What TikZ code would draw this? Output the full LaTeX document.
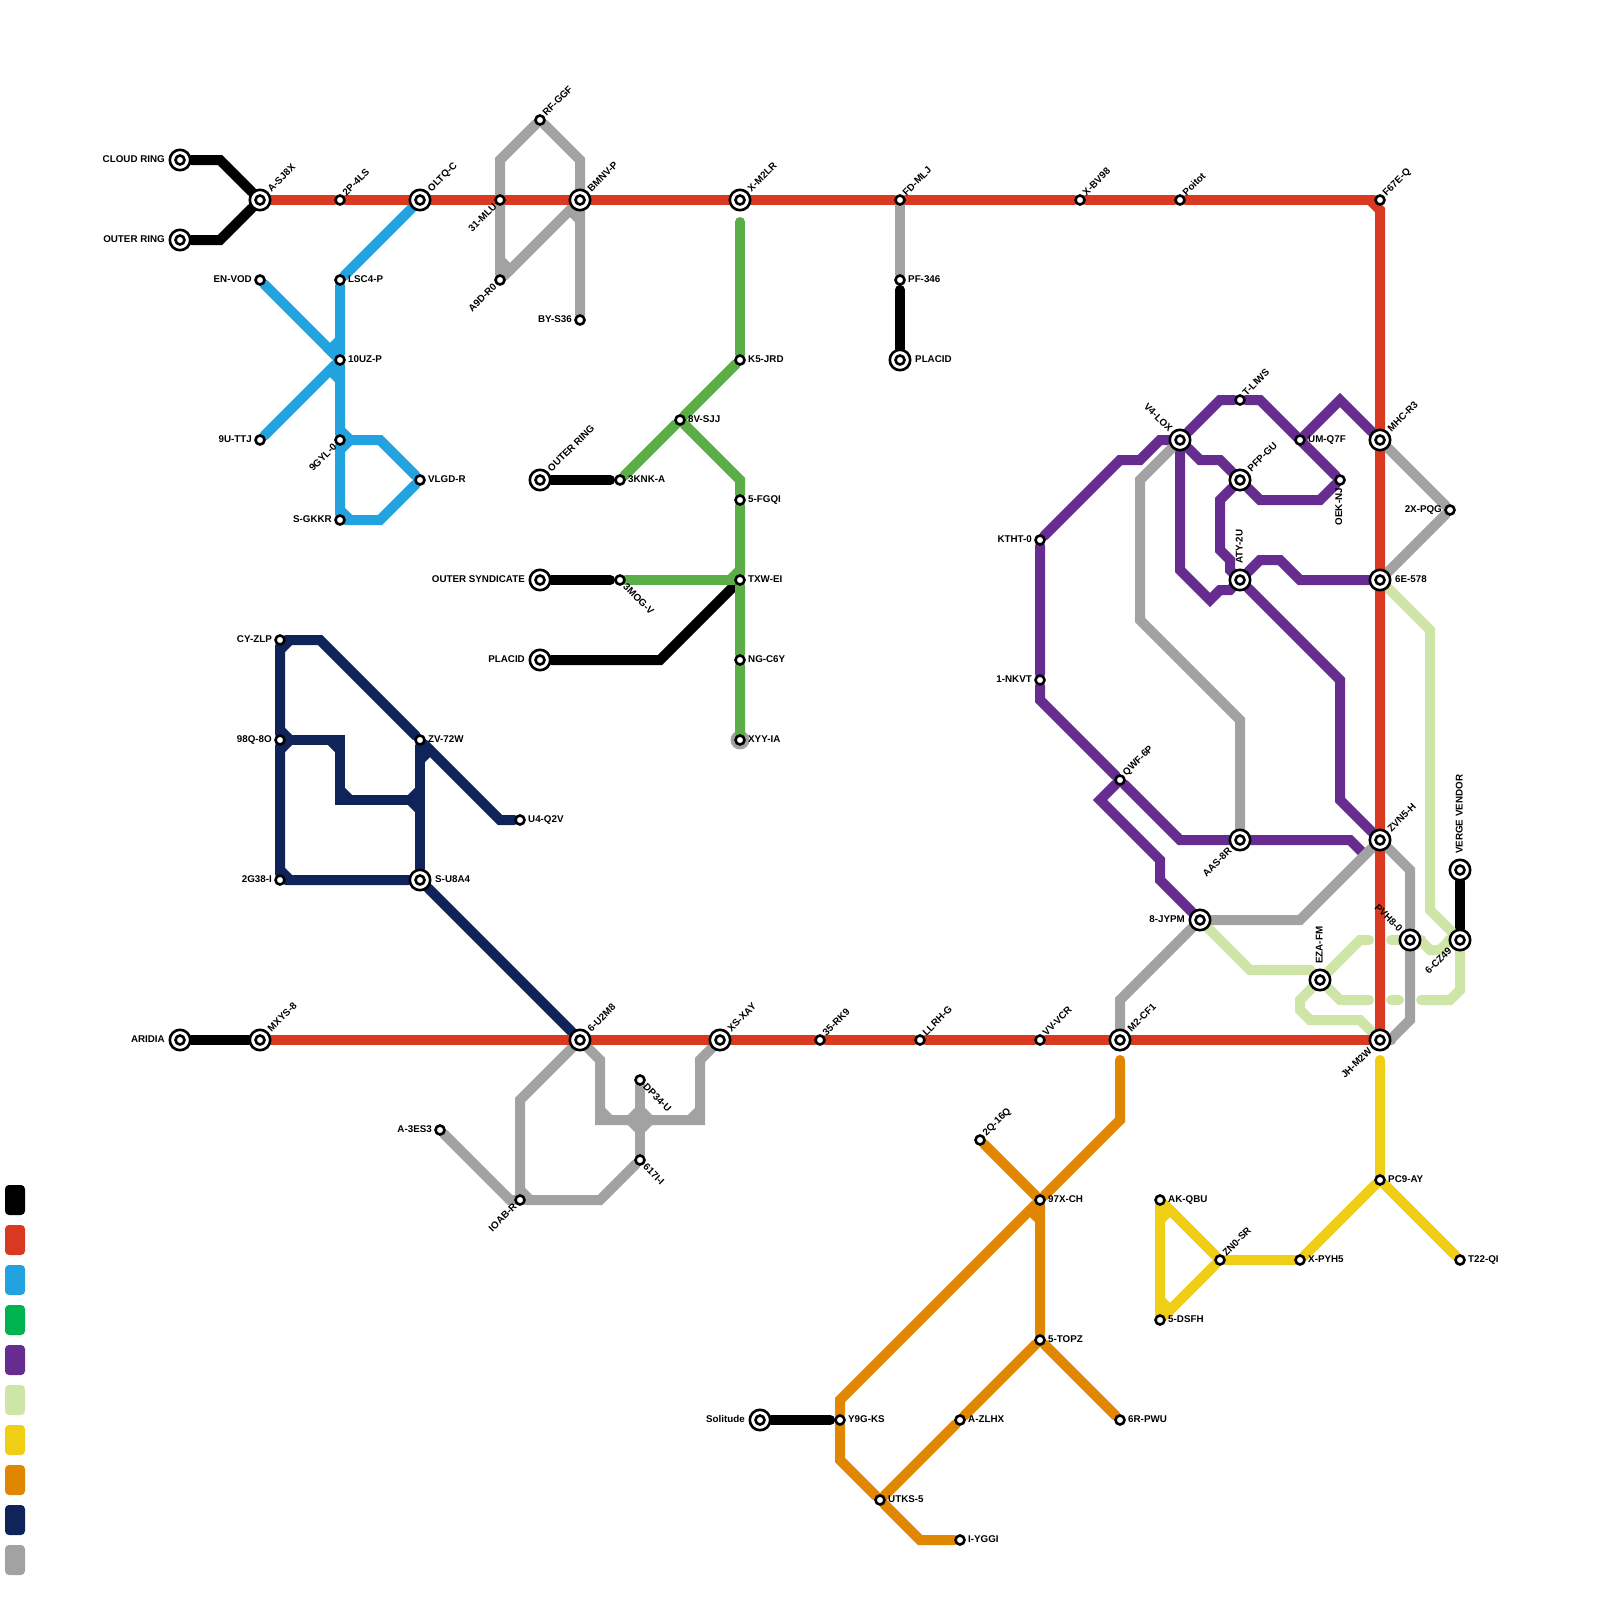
\documentclass[tikz,border=0pt]{standalone}
\usepackage{fontspec}
\setmainfont{Liberation Sans}
\definecolor{lineblack}{RGB}{0, 0, 0}
\definecolor{linered}{RGB}{216, 57, 32}
\definecolor{lineblue}{RGB}{34, 162, 223}
\definecolor{legendgreen}{RGB}{0, 178, 80}
\definecolor{linegreen}{RGB}{91, 173, 71}
\definecolor{linepurple}{RGB}{102, 44, 144}
\definecolor{linelime}{RGB}{207, 228, 167}
\definecolor{lineyellow}{RGB}{240, 206, 21}
\definecolor{lineorange}{RGB}{224, 134, 0}
\definecolor{linenavy}{RGB}{17, 36, 90}
\definecolor{linegray}{RGB}{162, 162, 162}
\usetikzlibrary{positioning}
\pgfdeclarelayer{lines}
\pgfsetlayers{lines,main}
\tikzset{
  route/.style={line width=10pt, line cap=round, line join=miter},
  station/.style={circle, draw=black, fill=white, line width=2.6pt, minimum size=9pt, inner sep=0pt},
  hub/.style={station, minimum size=20.4pt, path picture={\draw[line width=2.6pt] (path picture bounding box.center) circle (4.5pt);}},
  legendbox/.style={rounded corners=4pt, minimum width=20pt, minimum height=30pt, inner sep=0pt},
  tag/.style={font=\fontsize{9.8}{12}\selectfont\bfseries, inner sep=0pt, text height=7pt, text depth=0pt},
  tage/.style={tag, anchor=west, shift={(8,-1)}},
  tagw/.style={tag, anchor=east, shift={(-8,-1)}},
  tagne/.style={tag, anchor=west, shift={(4,-6)}, rotate=45},
  tagsw/.style={tag, anchor=east, shift={(-5,5)}, rotate=45},
  tagse/.style={tag, anchor=west, shift={(5,5)}, rotate=-45},
  hube/.style={tag, anchor=west, shift={(15,-1)}},
  hubw/.style={tag, anchor=east, shift={(-15,-1)}},
  hubne/.style={tag, anchor=west, shift={(9,-10)}, rotate=45},
  hubsw/.style={tag, anchor=east, shift={(-10,9)}, rotate=45},
  hubnw/.style={tag, anchor=east, shift={(-9,-10)}, rotate=-45},
  hubup/.style={tag, anchor=west, shift={(-1,-16)}, rotate=90},
}
\begin{document}
\begin{tikzpicture}[x=1pt, y=-1pt]
  \useasboundingbox (0,0) rectangle (1600,1600);

  % Legend
  \node[legendbox, fill=lineblack] (key1) at (15,1200) {};
  \node[legendbox, fill=linered] (key2) at (15,1240) {};
  \node[legendbox, fill=lineblue] (key3) at (15,1280) {};
  \node[legendbox, fill=legendgreen] (key4) at (15,1320) {};
  \node[legendbox, fill=linepurple] (key5) at (15,1360) {};
  \node[legendbox, fill=linelime] (key6) at (15,1400) {};
  \node[legendbox, fill=lineyellow] (key7) at (15,1440) {};
  \node[legendbox, fill=lineorange] (key8) at (15,1480) {};
  \node[legendbox, fill=linenavy] (key9) at (15,1520) {};
  \node[legendbox, fill=linegray] (key10) at (15,1560) {};

  % Stations, top left
  \node[hub] (cloudring) at (180,160) {};
  \node[hubw] (cloudring-t) at (cloudring) {CLOUD RING};
  \node[hub] (outerring) at (180,240) {};
  \node[hubw] (outerring-t) at (outerring) {OUTER RING};
  \node[hub] (asj) at (260,200) {};
  \node[hubne] (asj-t) at (asj) {A-SJ8X};
  \node[station] (pfourls) at (340,200) {};
  \node[tagne] (pfourls-t) at (pfourls) {2P-4LS};
  \node[hub] (oltq) at (420,200) {};
  \node[hubne] (oltq-t) at (oltq) {OLTQ-C};
  \node[station] (mlu) at (500,200) {};
  \node[tagsw] (mlu-t) at (mlu) {31-MLU};
  \node[hub] (bmnv) at (580,200) {};
  \node[hubne] (bmnv-t) at (bmnv) {BMNV-P};
  \node[station] (rfggf) at (540,120) {};
  \node[tagne] (rfggf-t) at (rfggf) {RF-GGF};
  \node[station] (anine) at (500,280) {};
  \node[tagsw] (anine-t) at (anine) {A9D-R0};
  \node[station] (bys) at (580,320) {};
  \node[tagw] (bys-t) at (bys) {BY-S36};
  \node[station] (envod) at (260,280) {};
  \node[tagw] (envod-t) at (envod) {EN-VOD};
  \node[station] (lsc) at (340,280) {};
  \node[tage] (lsc-t) at (lsc) {LSC4-P};
  \node[station] (tenuz) at (340,360) {};
  \node[tage] (tenuz-t) at (tenuz) {10UZ-P};
  \node[station] (uttj) at (260,440) {};
  \node[tagw] (uttj-t) at (uttj) {9U-TTJ};
  \node[station] (gyl) at (340,440) {};
  \node[tagsw] (gyl-t) at (gyl) {9GYL-0};
  \node[station] (vlgd) at (420,480) {};
  \node[tage] (vlgd-t) at (vlgd) {VLGD-R};
  \node[station] (gkkr) at (340,520) {};
  \node[tagw] (gkkr-t) at (gkkr) {S-GKKR};

  % Stations, middle
  \node[hub] (outertwo) at (540,480) {};
  \node[hubne] (outertwo-t) at (outertwo) {OUTER RING};
  \node[station] (knk) at (620,480) {};
  \node[tage] (knk-t) at (knk) {3KNK-A};
  \node[hub] (syndicate) at (540,580) {};
  \node[hubw] (syndicate-t) at (syndicate) {OUTER SYNDICATE};
  \node[station] (mog) at (620,580) {};
  \node[tagse] (mog-t) at (mog) {3MOG-V};
  \node[hub] (placid) at (540,660) {};
  \node[hubw] (placid-t) at (placid) {PLACID};
  \node[hub] (xmlr) at (740,200) {};
  \node[hubne] (xmlr-t) at (xmlr) {X-M2LR};
  \node[station] (kjrd) at (740,360) {};
  \node[tage] (kjrd-t) at (kjrd) {K5-JRD};
  \node[station] (sjj) at (680,420) {};
  \node[tage] (sjj-t) at (sjj) {8V-SJJ};
  \node[station] (fgqi) at (740,500) {};
  \node[tage] (fgqi-t) at (fgqi) {5-FGQI};
  \node[station] (txw) at (740,580) {};
  \node[tage] (txw-t) at (txw) {TXW-EI};
  \node[station] (ngc) at (740,660) {};
  \node[tage] (ngc-t) at (ngc) {NG-C6Y};
  \node[station] (xyy) at (740,740) {};
  \node[tage] (xyy-t) at (xyy) {XYY-IA};
  \node[station] (fdmlj) at (900,200) {};
  \node[tagne] (fdmlj-t) at (fdmlj) {FD-MLJ};
  \node[station] (pfthree) at (900,280) {};
  \node[tage] (pfthree-t) at (pfthree) {PF-346};
  \node[hub] (placidtwo) at (900,360) {};
  \node[hube] (placidtwo-t) at (placidtwo) {PLACID};
  \node[station] (xbv) at (1080,200) {};
  \node[tagne] (xbv-t) at (xbv) {X-BV98};
  \node[station] (poitot) at (1180,200) {};
  \node[tagne] (poitot-t) at (poitot) {Poitot};
  \node[station] (fsix) at (1380,200) {};
  \node[tagne] (fsix-t) at (fsix) {F67E-Q};

  % Stations, navy block
  \node[station] (cyz) at (280,640) {};
  \node[tagw] (cyz-t) at (cyz) {CY-ZLP};
  \node[station] (nineq) at (280,740) {};
  \node[tagw] (nineq-t) at (nineq) {98Q-8O};
  \node[station] (gthree) at (280,880) {};
  \node[tagw] (gthree-t) at (gthree) {2G38-I};
  \node[station] (zvw) at (420,740) {};
  \node[tage] (zvw-t) at (zvw) {ZV-72W};
  \node[hub] (ueight) at (420,880) {};
  \node[hube] (ueight-t) at (ueight) {S-U8A4};
  \node[station] (uq) at (520,820) {};
  \node[tage] (uq-t) at (uq) {U4-Q2V};

  % Stations, right
  \node[hub] (mhc) at (1380,440) {};
  \node[hubne] (mhc-t) at (mhc) {MHC-R3};
  \node[station] (umq) at (1300,440) {};
  \node[tage] (umq-t) at (umq) {UM-Q7F};
  \node[station] (tliws) at (1240,400) {};
  \node[tagne] (tliws-t) at (tliws) {T-LIWS};
  \node[hub] (vlox) at (1180,440) {};
  \node[hubnw] (vlox-t) at (vlox) {V4-LOX};
  \node[hub] (pfp) at (1240,480) {};
  \node[hubne] (pfp-t) at (pfp) {PFP-GU};
  \node[station] (oek) at (1340,480) {};
  \node[tag, anchor=east, shift={(-1.5,8)}, rotate=90] (oek-t) at (oek) {OEK-NJ};
  \node[station] (pqg) at (1450,510) {};
  \node[tagw] (pqg-t) at (pqg) {2X-PQG};
  \node[hub] (esix) at (1380,580) {};
  \node[hube] (esix-t) at (esix) {6E-578};
  \node[hub] (aty) at (1240,580) {};
  \node[hubup] (aty-t) at (aty) {ATY-2U};
  \node[station] (ktht) at (1040,540) {};
  \node[tagw] (ktht-t) at (ktht) {KTHT-0};
  \node[station] (nkvt) at (1040,680) {};
  \node[tagw] (nkvt-t) at (nkvt) {1-NKVT};
  \node[station] (qwf) at (1120,780) {};
  \node[tagne] (qwf-t) at (qwf) {QWF-6P};
  \node[hub] (aas) at (1240,840) {};
  \node[hubsw] (aas-t) at (aas) {AAS-8R};
  \node[hub] (zvn) at (1380,840) {};
  \node[hubne] (zvn-t) at (zvn) {ZVN5-H};
  \node[hub] (jypm) at (1200,920) {};
  \node[hubw] (jypm-t) at (jypm) {8-JYPM};
  \node[hub] (eza) at (1320,980) {};
  \node[hubup] (eza-t) at (eza) {EZA-FM};
  \node[hub] (pvh) at (1410,940) {};
  \node[hubnw] (pvh-t) at (pvh) {PVH8-0};
  \node[hub] (czf) at (1460,940) {};
  \node[hubsw] (czf-t) at (czf) {6-CZ49};
  \node[hub] (verge) at (1460,870) {};
  \node[hubup] (verge-t) at (verge) {VERGE VENDOR};

  % Stations, lower red line
  \node[hub] (aridia) at (180,1040) {};
  \node[hubw] (aridia-t) at (aridia) {ARIDIA};
  \node[hub] (mxys) at (260,1040) {};
  \node[hubne] (mxys-t) at (mxys) {MXYS-8};
  \node[hub] (usix) at (580,1040) {};
  \node[hubne] (usix-t) at (usix) {6-U2M8};
  \node[hub] (xsx) at (720,1040) {};
  \node[hubne] (xsx-t) at (xsx) {XS-XAY};
  \node[station] (rknine) at (820,1040) {};
  \node[tagne] (rknine-t) at (rknine) {35-RK9};
  \node[station] (llrh) at (920,1040) {};
  \node[tagne] (llrh-t) at (llrh) {LLRH-G};
  \node[station] (vvv) at (1040,1040) {};
  \node[tagne] (vvv-t) at (vvv) {VV-VCR};
  \node[hub] (mcf) at (1120,1040) {};
  \node[hubne] (mcf-t) at (mcf) {M2-CF1};
  \node[hub] (jhm) at (1380,1040) {};
  \node[hubsw] (jhm-t) at (jhm) {JH-M2W};

  % Stations, bottom
  \node[station] (dpu) at (640,1080) {};
  \node[tagse] (dpu-t) at (dpu) {DP34-U};
  \node[station] (sixone) at (640,1160) {};
  \node[tagse] (sixone-t) at (sixone) {617I-I};
  \node[station] (ioab) at (520,1200) {};
  \node[tagsw] (ioab-t) at (ioab) {IOAB-R};
  \node[station] (aes) at (440,1130) {};
  \node[tagw] (aes-t) at (aes) {A-3ES3};
  \node[station] (qsix) at (980,1140) {};
  \node[tagne] (qsix-t) at (qsix) {2Q-16Q};
  \node[station] (sevenx) at (1040,1200) {};
  \node[tage] (sevenx-t) at (sevenx) {97X-CH};
  \node[station] (topz) at (1040,1340) {};
  \node[tage] (topz-t) at (topz) {5-TOPZ};
  \node[station] (pwu) at (1120,1420) {};
  \node[tage] (pwu-t) at (pwu) {6R-PWU};
  \node[station] (zlhx) at (960,1420) {};
  \node[tage] (zlhx-t) at (zlhx) {A-ZLHX};
  \node[station] (ynine) at (840,1420) {};
  \node[tage] (ynine-t) at (ynine) {Y9G-KS};
  \node[hub] (solitude) at (760,1420) {};
  \node[hubw] (solitude-t) at (solitude) {Solitude};
  \node[station] (utks) at (880,1500) {};
  \node[tage] (utks-t) at (utks) {UTKS-5};
  \node[station] (yggi) at (960,1540) {};
  \node[tage] (yggi-t) at (yggi) {I-YGGI};
  \node[station] (akq) at (1160,1200) {};
  \node[tage] (akq-t) at (akq) {AK-QBU};
  \node[station] (zns) at (1220,1260) {};
  \node[tagne] (zns-t) at (zns) {ZN0-SR};
  \node[station] (dsfh) at (1160,1320) {};
  \node[tage] (dsfh-t) at (dsfh) {5-DSFH};
  \node[station] (pyh) at (1300,1260) {};
  \node[tage] (pyh-t) at (pyh) {X-PYH5};
  \node[station] (pcnine) at (1380,1180) {};
  \node[tage] (pcnine-t) at (pcnine) {PC9-AY};
  \node[station] (tqi) at (1460,1260) {};
  \node[tage] (tqi-t) at (tqi) {T22-QI};

  \begin{pgfonlayer}{lines}
    % Black
    \draw[route, lineblack] (cloudring) -- (220,160) -- (asj);
    \draw[route, lineblack] (outerring) -- (220,240) -- (asj);
    \draw[route, lineblack, shorten >=4pt] (outertwo) -- (knk);
    \draw[route, lineblack, shorten >=4pt] (syndicate) -- (mog);
    \draw[route, lineblack, shorten >=4pt] (placid) -- (660,660) -- (txw);
    \draw[route, lineblack, shorten >=4pt] (placidtwo) -- (pfthree);
    \draw[route, lineblack] (aridia) -- (mxys);
    \draw[route, lineblack, shorten >=4pt] (solitude) -- (ynine);
    \draw[route, lineblack] (verge) -- (czf);

    % Blue
    \draw[route, lineblue] (oltq) -- (lsc) -- (tenuz) -- (gyl) -- (gkkr);
    \draw[route, lineblue] (envod) -- (tenuz);
    \draw[route, lineblue] (uttj) -- (tenuz);
    \draw[route, lineblue] (340,340) -- (330,350) -- (tenuz);
    \draw[route, lineblue] (330,370) -- (340,380);
    \draw[route, lineblue] (gyl) -- (380,440) -- (vlgd);
    \draw[route, lineblue] (gkkr) -- (380,520) -- (vlgd);
    \draw[route, lineblue] (340,430) -- (350,440) -- (340,450);
    \draw[route, lineblue] (340,510) -- (350,520);

    % Green
    \fill[linegray] (xyy) circle (9.5);
    \draw[route, linegreen, shorten <=10.5pt] (xmlr) -- (kjrd);
    \draw[route, linegreen] (kjrd) -- (sjj) -- (knk);
    \draw[route, linegreen] (sjj) -- (740,480) -- (fgqi) -- (txw) -- (ngc) -- (xyy);
    \draw[route, linegreen] (mog) -- (txw);
    \draw[route, linegreen] (740,570) -- (730,580);

    % Purple
    \draw[route, linepurple] (mhc) -- (1340,400) -- (umq);
    \draw[route, linepurple] (vlox) -- (1220,400) -- (tliws) -- (1260,400) -- (oek);
    \draw[route, linepurple] (ktht) -- (1120,460) -- (1140,460) -- (1160,440) -- (vlox);
    \draw[route, linepurple] (vlox) -- (1200,460) -- (1220,460) -- (pfp);
    \draw[route, linepurple] (vlox) -- (1180,570) -- (1210,600) -- (1220,590) -- (1230,590) -- (aty);
    \draw[route, linepurple] (pfp) -- (1220,500) -- (1220,550) -- (1230,560) -- (1230,570) -- (aty);
    \draw[route, linepurple] (pfp) -- (1260,500) -- (1320,500) -- (oek);
    \draw[route, linepurple] (aty) -- (1260,560) -- (1280,560) -- (1300,580) -- (esix);
    \draw[route, linepurple] (aty) -- (1340,680) -- (1340,800) -- (zvn);
    \draw[route, linepurple] (ktht) -- (nkvt) -- (1040,700) -- (qwf) -- (1180,840) -- (aas);
    \draw[route, linepurple] (aas) -- (1350,840) -- (1362,852);
    \draw[route, linepurple] (qwf) -- (1100,800) -- (1160,860) -- (1160,880) -- (jypm);

    % Light green
    \draw[route, linelime] (esix) -- (1430,630) -- (1430,910) -- (czf);
    \draw[route, linelime] (jypm) -- (1250,970) -- (1310,970) -- (eza);
    \draw[route, linelime] (eza) -- (1360,940) -- (1369,940);
    \draw[route, linelime] (1391,940) -- (pvh);
    \draw[route, linelime] (pvh) -- (1420,940) -- (1430,950) -- (1440,950) -- (1450,940) -- (czf);
    \draw[route, linelime] (eza) -- (1340,1000) -- (1369,1000);
    \draw[route, linelime] (1391,1000) -- (1399,1000);
    \draw[route, linelime] (1421,1000) -- (1450,1000) -- (1460,990) -- (czf);
    \draw[route, linelime] (eza) -- (1300,1000) -- (1300,1010) -- (1310,1020) -- (1360,1020) -- (jhm);

    % Yellow
    \draw[route, lineyellow, shorten <=8.5pt] (jhm) -- (pcnine);
    \draw[route, lineyellow] (pcnine) -- (pyh) -- (zns) -- (akq) -- (dsfh) -- (zns);
    \draw[route, lineyellow] (pcnine) -- (tqi);
    \draw[route, lineyellow] (1170,1210) -- (1160,1220);
    \draw[route, lineyellow] (1160,1300) -- (1170,1310);

    % Orange
    \draw[route, lineorange, shorten <=8.5pt] (mcf) -- (1120,1120) -- (sevenx);
    \draw[route, lineorange] (sevenx) -- (840,1400) -- (ynine) -- (840,1460) -- (utks) -- (920,1540) -- (yggi);
    \draw[route, lineorange] (qsix) -- (sevenx) -- (topz) -- (zlhx) -- (utks);
    \draw[route, lineorange] (topz) -- (pwu);
    \draw[route, lineorange] (1030,1210) -- (1040,1220);

    % Navy
    \draw[route, linenavy] (cyz) -- (320,640) -- (zvw) -- (500,820) -- (uq);
    \draw[route, linenavy] (cyz) -- (nineq) -- (gthree) -- (ueight) -- (usix);
    \draw[route, linenavy] (zvw) -- (ueight);
    \draw[route, linenavy] (nineq) -- (340,740) -- (340,800) -- (420,800);
    \draw[route, linenavy] (290,640) -- (280,650);
    \draw[route, linenavy] (280,730) -- (290,740) -- (280,750);
    \draw[route, linenavy] (280,870) -- (290,880);
    \draw[route, linenavy] (330,740) -- (340,750);
    \draw[route, linenavy] (340,790) -- (350,800);
    \draw[route, linenavy] (420,790) -- (410,800) -- (420,810);
    \draw[route, linenavy] (430,750) -- (420,760);

    % Gray
    \draw[route, linegray] (mlu) -- (500,160) -- (rfggf) -- (580,160) -- (bmnv);
    \draw[route, linegray] (mlu) -- (anine) -- (bmnv) -- (bys);
    \draw[route, linegray] (500,260) -- (510,270);
    \draw[route, linegray] (570,210) -- (580,220);
    \draw[route, linegray] (fdmlj) -- (pfthree);
    \draw[route, linegray] (mhc) -- (pqg) -- (esix);
    \draw[route, linegray] (vlox) -- (1140,480) -- (1140,620) -- (1240,720) -- (aas);
    \draw[route, linegray] (zvn) -- (1300,920) -- (jypm);
    \draw[route, linegray] (jypm) -- (1120,1000) -- (mcf);
    \draw[route, linegray] (zvn) -- (1410,870) -- (pvh) -- (1410,1020) -- (1390,1040) -- (jhm);
    \draw[route, linegray] (usix) -- (520,1100) -- (ioab);
    \draw[route, linegray] (aes) -- (510,1200) -- (ioab);
    \draw[route, linegray] (ioab) -- (600,1200) -- (sixone);
    \draw[route, linegray] (520,1190) -- (530,1200);
    \draw[route, linegray] (usix) -- (600,1060) -- (600,1120) -- (700,1120) -- (700,1060) -- (xsx);
    \draw[route, linegray] (600,1110) -- (610,1120);
    \draw[route, linegray] (700,1110) -- (690,1120);
    \draw[route, linegray] (dpu) -- (sixone);
    \draw[route, linegray] (630,1120) -- (640,1110) -- (650,1120) -- (640,1130) -- cycle;

    % Red
    \draw[route, linered] (asj) -- (pfourls) -- (oltq) -- (mlu) -- (bmnv) -- (xmlr) -- (fdmlj) -- (xbv) -- (poitot) -- (fsix);
    \draw[route, linered] (1370,200) -- (1380,210) -- (mhc) -- (esix) -- (zvn) -- (jhm);
    \draw[route, linered] (mxys) -- (usix) -- (xsx) -- (rknine) -- (llrh) -- (vvv) -- (mcf) -- (jhm);
  \end{pgfonlayer}
\end{tikzpicture}
\end{document}
